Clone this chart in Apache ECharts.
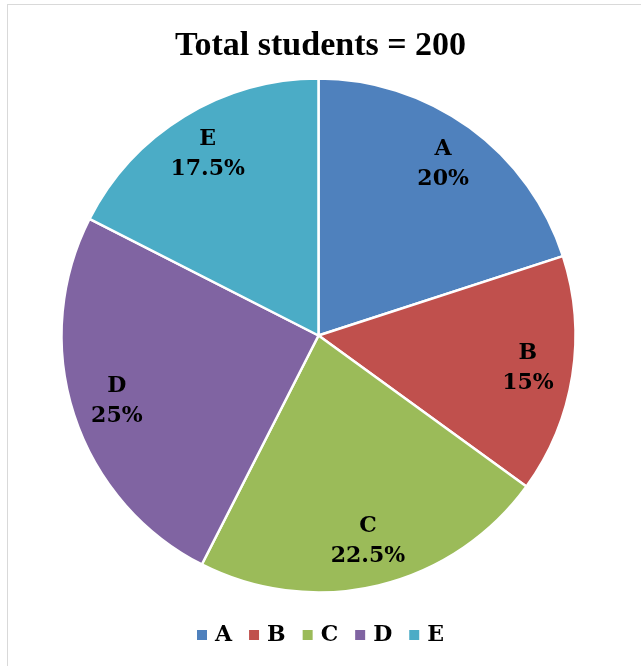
<!DOCTYPE html>
<html>
<head>
<meta charset="utf-8">
<script src="https://cdn.jsdelivr.net/npm/echarts@6/dist/echarts.min.js"></script>
<style>
  html, body { margin: 0; padding: 0; background: #fff; }
  #wrap { position: relative; width: 641px; height: 666px; overflow: hidden; }
  #frame { position: absolute; left: 7px; top: 4px; width: 660px; height: 700px; border: 1px solid #d9d9d9; box-sizing: border-box; }
  #chart { position: absolute; left: 0; top: 0; width: 641px; height: 666px; }
</style>
</head>
<body>
<div id="wrap">
  <div id="frame"></div>
  <div id="chart"></div>
</div>
<script>
// data
const categories = ['A', 'B', 'C', 'D', 'E'];
const shares = [20, 15, 22.5, 25, 17.5];
const colors = ['#4F81BD', '#C0504D', '#9BBB59', '#8064A2', '#4BACC6'];

const labelFont = 'DejaVu Serif';

const pieData = categories.map((c, i) => ({
  name: c,
  value: shares[i],
  itemStyle: { color: colors[i] }
}));

let chart = echarts.init(document.getElementById('chart'));
chart.setOption({
  animation: false,
  title: {
    text: 'Total students = 200',
    left: 'center',
    top: 24,
    textStyle: {
      fontFamily: 'Liberation Serif',
      fontWeight: 'bold',
      fontSize: 34,
      color: '#000'
    }
  },
  legend: {
    top: 619,
    left: 'center',
    icon: 'rect',
    itemWidth: 10,
    itemHeight: 10,
    itemGap: 17,
    itemStyle: { borderWidth: 0 },
    data: categories,
    textStyle: {
      fontFamily: labelFont,
      fontWeight: 'bold',
      fontSize: 22,
      color: '#000',
      padding: [0, 0, 0, 3]
    }
  },
  series: [
    {
      name: 'students',
      type: 'pie',
      center: [318.5, 335.5],
      radius: [0, 257],
      startAngle: 90,
      clockwise: true,
      label: { show: false },
      labelLine: { show: false },
      itemStyle: { borderColor: '#fff', borderWidth: 2.5 },
      emphasis: { disabled: true },
      data: pieData
    },
    {
      // transparent ring used only to place labels at ~0.83 of the radius
      name: 'labels',
      type: 'pie',
      center: [318.5, 335.5],
      radius: [162, 256],
      startAngle: 90,
      clockwise: true,
      silent: true,
      itemStyle: { color: 'rgba(0,0,0,0)', borderWidth: 0 },
      labelLine: { show: false },
      label: {
        show: true,
        position: 'inside',
        formatter: p => p.name + '\n' + p.value + '%',
        fontFamily: labelFont,
        fontWeight: 'bold',
        fontSize: 22,
        lineHeight: 30,
        color: '#000'
      },
      emphasis: { disabled: true },
      data: pieData.map(d => ({ name: d.name, value: d.value }))
    }
  ]
});
</script>
</body>
</html>
